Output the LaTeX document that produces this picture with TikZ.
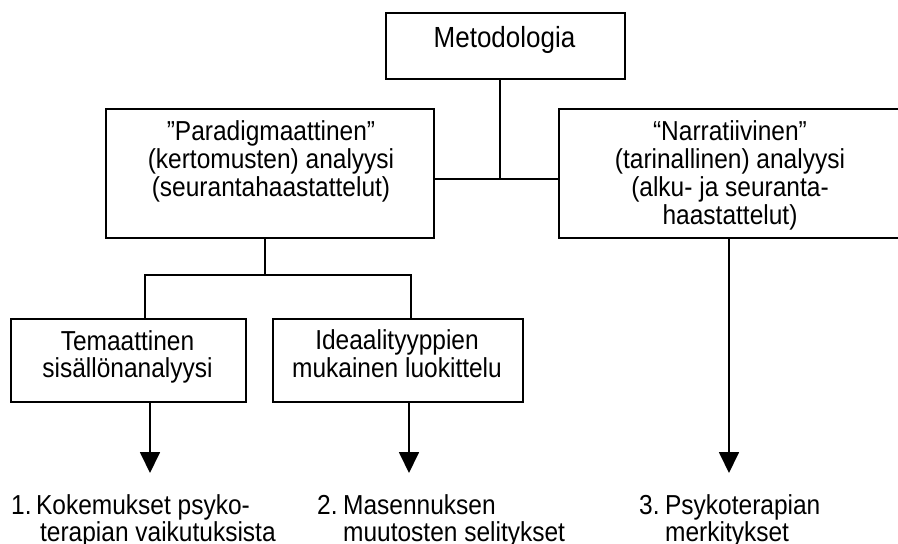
\documentclass[tikz,border=0pt]{standalone}
\usepackage{graphicx}
\usepackage{fontspec}
\setmainfont{Liberation Sans}
\usetikzlibrary{arrows.meta}
\newcommand\vstretch[1]{\scalebox{1}[1.12]{#1}}
\begin{document}
\begin{tikzpicture}[x=1pt,y=-1pt,
  box/.style={draw,line width=1.8pt,inner sep=0pt,rectangle},
  txt/.style={inner sep=0pt,font=\fontsize{24.5}{23.7}\selectfont},
  conn/.style={line width=1.8pt},
  arr/.style={line width=1.8pt,-{Triangle[length=21pt,width=20pt]}}]
\useasboundingbox (0,0) rectangle (898,544);
% boxes
\node[box,anchor=north west,minimum width=239pt,minimum height=66pt] (meto) at (385,12) {};
\node[box,anchor=north west,minimum width=328pt,minimum height=129pt] (para) at (105,108) {};
\node[box,anchor=north west,minimum width=344pt,minimum height=129pt] (narr) at (558,108) {};
\node[box,anchor=north west,minimum width=235pt,minimum height=83pt] (tema) at (10,318) {};
\node[box,anchor=north west,minimum width=250pt,minimum height=83pt] (idea) at (272,318) {};
% texts in boxes
\node[txt,anchor=base,font=\fontsize{26}{28}\selectfont] (metot) at (504.5,47.7) {\vstretch{Metodologia}};
\node[txt,anchor=base] (parat) at (271,140.5) {\vstretch{\begin{tabular}[t]{@{}c@{}}”Paradigmaattinen”\\(kertomusten) analyysi\\ (seurantahaastattelut)\end{tabular}}};
\node[txt,anchor=base] (narrt) at (730,140.5) {\vstretch{\begin{tabular}[t]{@{}c@{}}“Narratiivinen”\\(tarinallinen) analyysi\\(alku- ja seuranta-\\haastattelut)\end{tabular}}};
\node[txt,anchor=base] (temat) at (127.5,350) {\vstretch{\begin{tabular}[t]{@{}c@{}}Temaattinen\\sisällönanalyysi\end{tabular}}};
\node[txt,anchor=base] (ideat) at (397,349.5) {\vstretch{\begin{tabular}[t]{@{}c@{}}Ideaalityyppien\\mukainen luokittelu\end{tabular}}};
% results
\node[txt,anchor=base west] (r1) at (11,514) {\vstretch{\begin{tabular}[t]{@{}l@{\hspace{4.5pt}}l@{}}1. & Kokemukset psyko-\\ & \hspace*{4pt}terapian vaikutuksista\end{tabular}}};
\node[txt,anchor=base west] (r2) at (317,514) {\vstretch{\begin{tabular}[t]{@{}l@{\hspace{5.5pt}}l@{}}2. & Masennuksen\\ & muutosten selitykset\end{tabular}}};
\node[txt,anchor=base west] (r3) at (639,514) {\vstretch{\begin{tabular}[t]{@{}l@{\hspace{5.5pt}}l@{}}3. & Psykoterapian\\ & merkitykset\end{tabular}}};
% junctions
\coordinate (j1) at (500,179);
\coordinate (j2) at (265,275);
\coordinate (jl) at (145,275);
\coordinate (jr) at (411,275);
\coordinate (e1) at (150,473);
\coordinate (e2) at (409,473);
\coordinate (e3) at (729,473);
% connectors
\draw[conn] (meto.south -| j1) -- (j1);
\draw[conn] (para.east |- j1) -- (narr.west |- j1);
\draw[conn] (para.south -| j2) -- (j2);
\draw[conn] (tema.north -| jl) -- (jl) -- (jr) -- (idea.north -| jr);
\draw[arr] (tema.south -| e1) -- (e1);
\draw[arr] (idea.south -| e2) -- (e2);
\draw[arr] (narr.south -| e3) -- (e3);
\end{tikzpicture}
\end{document}
